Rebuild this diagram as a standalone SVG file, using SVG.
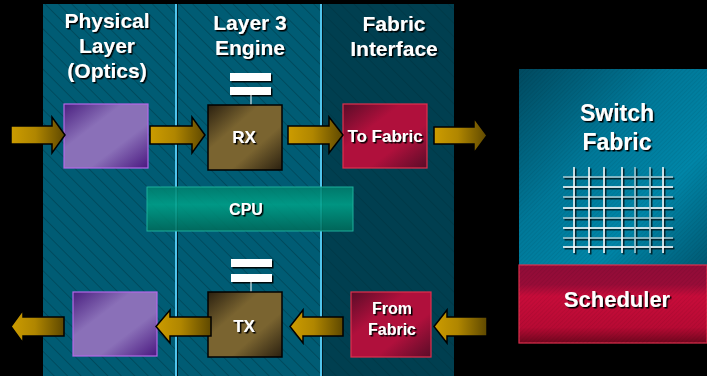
<svg xmlns="http://www.w3.org/2000/svg" width="707" height="376" viewBox="0 0 707 376">
<defs>
<style>
.t{font-family:"Liberation Sans",Arial,sans-serif;font-weight:bold;fill:#fff;text-anchor:middle;filter:url(#sh)}
.h{font-size:21px}
.b{font-size:17px}
.c{font-size:16px}
.arr{stroke:#000;stroke-width:1.5;fill:url(#gold)}
.bar{fill:#fff;filter:url(#bs)}
.gw{stroke:#fff;stroke-width:1.5}
.gg{stroke:#a8c8d0;stroke-width:1.5}
</style>
<filter id="sh" x="-10%" y="-20%" width="130%" height="150%"><feDropShadow dx="1.5" dy="1.5" stdDeviation="0.4" flood-color="#000" flood-opacity="1"/></filter>
<filter id="bs" x="-10%" y="-30%" width="130%" height="180%"><feDropShadow dx="1.5" dy="1.5" stdDeviation="0.3" flood-color="#000" flood-opacity="0.9"/></filter>
<pattern id="hatch" width="9.5" height="9.5" patternUnits="userSpaceOnUse" patternTransform="rotate(-45)"><line x1="0" y1="0" x2="0" y2="9.5" stroke="#002e3c" stroke-opacity="0.8" stroke-width="1"/></pattern>
<pattern id="fine" width="3" height="3" patternUnits="userSpaceOnUse" patternTransform="rotate(45)"><line x1="0" y1="0" x2="0" y2="3" stroke="#000" stroke-opacity="0.12" stroke-width="1"/></pattern>
<linearGradient id="gold" x1="0" y1="0" x2="1" y2="0"><stop offset="0" stop-color="#cc9c00"/><stop offset="0.45" stop-color="#b08600"/><stop offset="1" stop-color="#5e4800"/></linearGradient>
<linearGradient id="purp" x1="0" y1="0" x2="1" y2="1"><stop offset="0" stop-color="#4a2080"/><stop offset="0.35" stop-color="#8a70b8"/><stop offset="0.65" stop-color="#8a70b8"/><stop offset="1" stop-color="#4a1880"/></linearGradient>
<linearGradient id="brown" x1="0" y1="0" x2="1" y2="1"><stop offset="0" stop-color="#2a2010"/><stop offset="0.35" stop-color="#7a6430"/><stop offset="0.65" stop-color="#7a6430"/><stop offset="1" stop-color="#2a2010"/></linearGradient>
<linearGradient id="crim" x1="0" y1="0" x2="1" y2="1"><stop offset="0" stop-color="#5a0c28"/><stop offset="0.35" stop-color="#b0103c"/><stop offset="0.65" stop-color="#b0103c"/><stop offset="1" stop-color="#5a0c28"/></linearGradient>
<linearGradient id="cpu" x1="0" y1="0" x2="0" y2="1"><stop offset="0" stop-color="#00806e"/><stop offset="0.4" stop-color="#00a088"/><stop offset="1" stop-color="#006a5a"/></linearGradient>
<linearGradient id="sw" x1="0" y1="0" x2="1" y2="1"><stop offset="0" stop-color="#004a60"/><stop offset="0.4" stop-color="#007898"/><stop offset="0.7" stop-color="#0086a8"/><stop offset="1" stop-color="#005a74"/></linearGradient>
<linearGradient id="sch" x1="0" y1="0" x2="0" y2="1"><stop offset="0" stop-color="#900c38"/><stop offset="0.25" stop-color="#980c38"/><stop offset="0.4" stop-color="#c80c3a"/><stop offset="0.8" stop-color="#b80a34"/><stop offset="1" stop-color="#70061e"/></linearGradient>
</defs>
<rect width="707" height="376" fill="#000"/>
<g id="columns">
<rect x="43" y="4" width="133" height="372" fill="#005c74"/>
<rect x="178" y="4" width="143" height="372" fill="#005c74"/>
<rect x="323" y="4" width="131" height="372" fill="#003f50"/>
<rect x="43" y="4" width="411" height="372" fill="url(#hatch)"/>
<rect x="175" y="4" width="2" height="372" fill="#50c4ec"/>
<rect x="177" y="4" width="1" height="372" fill="#001820"/>
<rect x="320" y="4" width="2" height="372" fill="#50c4ec"/>
<rect x="322" y="4" width="1" height="372" fill="#001820"/>
</g>
<g id="headings">
<text class="t h" x="107" y="28">Physical</text>
<text class="t h" x="107" y="53">Layer</text>
<text class="t h" x="107" y="78">(Optics)</text>
<text class="t h" x="250" y="30">Layer 3</text>
<text class="t h" x="250" y="55">Engine</text>
<text class="t h" x="394" y="31">Fabric</text>
<text class="t h" x="394" y="56">Interface</text>
</g>
<g id="phy-in">
<rect x="64" y="104" width="84" height="64" fill="url(#purp)" stroke="#b468e8" stroke-width="1.2"/>
</g>
<g id="rx">
<rect x="230" y="73" width="41" height="8" class="bar"/>
<rect x="230" y="87" width="41" height="8" class="bar"/>
<line x1="251" y1="95" x2="251" y2="105" stroke="#fff" stroke-width="1"/>
<rect x="208" y="105" width="74" height="65" fill="url(#brown)" stroke="#000" stroke-width="1.5"/>
<text class="t b" x="244" y="143">RX</text>
</g>
<g id="to-fabric">
<rect x="343" y="104" width="84" height="64" fill="url(#crim)" stroke="#e0304e" stroke-width="1.2"/>
<text class="t b" x="385" y="142">To Fabric</text>
</g>
<g id="cpu-node">
<rect x="147" y="187" width="206" height="44" fill="url(#cpu)" fill-opacity="0.88" stroke="#1cb09c" stroke-width="1"/>
<text class="t c" x="246" y="215">CPU</text>
</g>
<g id="tx">
<rect x="231" y="259" width="41" height="8" class="bar"/>
<rect x="231" y="274" width="41" height="8" class="bar"/>
<line x1="251" y1="282" x2="251" y2="292" stroke="#fff" stroke-width="1"/>
<rect x="208" y="292" width="74" height="65" fill="url(#brown)" stroke="#000" stroke-width="1.5"/>
<text class="t b" x="244" y="332">TX</text>
</g>
<g id="phy-out">
<rect x="73" y="292" width="84" height="64" fill="url(#purp)" stroke="#b468e8" stroke-width="1.2"/>
</g>
<g id="from-fabric">
<rect x="351" y="292" width="80" height="65" fill="url(#crim)" stroke="#e0304e" stroke-width="1.2"/>
<text class="t c" x="392" y="314">From</text>
<text class="t c" x="392" y="335">Fabric</text>
</g>
<g id="switch-fabric">
<rect x="519" y="69" width="188" height="196" fill="url(#sw)"/>
<rect x="519" y="69" width="188" height="196" fill="url(#fine)"/>
<text class="t" x="617" y="121" font-size="23">Switch</text>
<text class="t" x="617" y="150" font-size="23">Fabric</text>
<g filter="url(#bs)">
<line class="gg" x1="563" y1="177" x2="673" y2="177"/>
<line class="gw" x1="563" y1="187" x2="673" y2="187"/>
<line class="gg" x1="563" y1="197" x2="673" y2="197"/>
<line class="gw" x1="563" y1="208" x2="673" y2="208"/>
<line class="gg" x1="563" y1="218" x2="673" y2="218"/>
<line class="gw" x1="563" y1="228" x2="673" y2="228"/>
<line class="gg" x1="563" y1="238" x2="673" y2="238"/>
<line class="gw" x1="563" y1="247" x2="673" y2="247"/>
<line class="gw" x1="574" y1="167" x2="574" y2="253"/>
<line class="gw" x1="589" y1="167" x2="589" y2="253"/>
<line class="gw" x1="604" y1="167" x2="604" y2="253"/>
<line class="gw" x1="622" y1="167" x2="622" y2="253"/>
<line class="gg" x1="635" y1="167" x2="635" y2="253"/>
<line class="gg" x1="650" y1="167" x2="650" y2="253"/>
<line class="gw" x1="663" y1="167" x2="663" y2="253"/>
</g>
</g>
<g id="scheduler">
<rect x="519" y="265" width="188" height="78" fill="url(#sch)" stroke="#e0304e" stroke-width="1.2"/>
<rect x="519" y="265" width="188" height="78" fill="url(#fine)"/>
<text class="t" x="617" y="307" font-size="22">Scheduler</text>
</g>
<g id="connectors">
<path class="arr" d="M11,126 H52 V117 L65,135 L52,153 V144 H11 Z"/>
<path class="arr" d="M150,126 H192 V117 L205,135 L192,153 V144 H150 Z"/>
<path class="arr" d="M288,126 H329 V117 L343,135 L329,153 V144 H288 Z"/>
<path class="arr" d="M434,127 H474 V118 L487,135.5 L474,153 V144 H434 Z"/>
<path class="arr" d="M487,317 H447 V310 L434,326.5 L447,343 V336 H487 Z"/>
<path class="arr" d="M343,317 H303 V310 L290,326.5 L303,343 V336 H343 Z"/>
<path class="arr" d="M211,317 H170 V310 L156,326.5 L170,343 V336 H211 Z"/>
<path class="arr" d="M64,317 H23 V310 L11,326.5 L23,343 V336 H64 Z"/>
</g>
</svg>
